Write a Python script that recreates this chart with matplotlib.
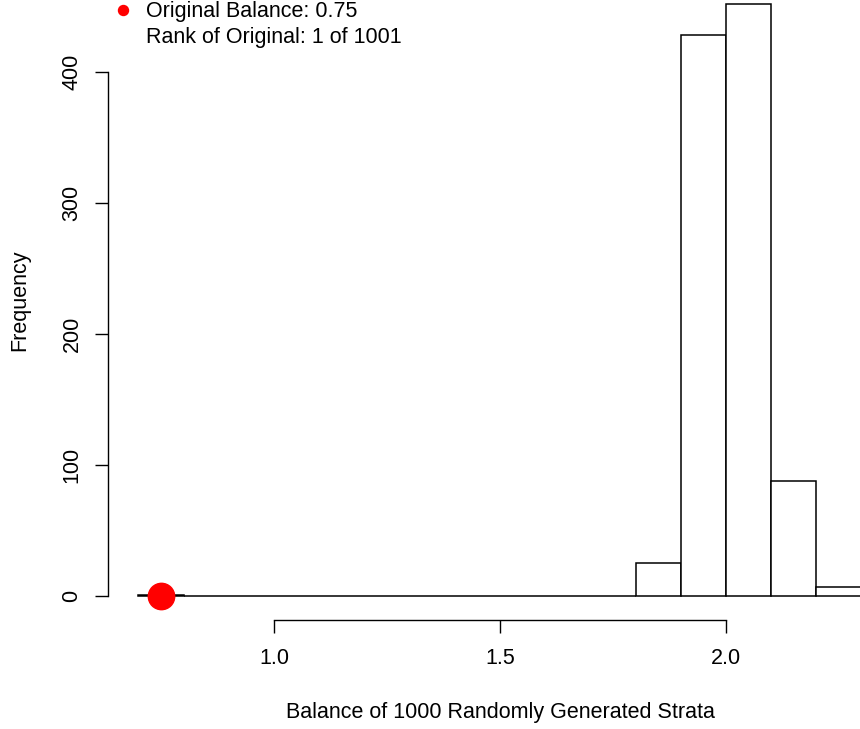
import matplotlib
matplotlib.use("Agg")
import matplotlib.pyplot as plt
import numpy as np

plt.rcParams['font.family'] = ['Liberation Sans', 'DejaVu Sans']

# histogram of balances (bin edges 0.7 .. 2.3, step 0.1)
bin_edges = [0.7, 0.8, 0.9, 1.0, 1.1, 1.2, 1.3, 1.4, 1.5, 1.6, 1.7, 1.8, 1.9, 2.0, 2.1, 2.2, 2.3]
counts = [1, 0, 0, 0, 0, 0, 0, 0, 0, 0, 0, 25, 428, 452, 88, 7]
original_balance = 0.75
x_ticks = [1.0, 1.5, 2.0]
x_tick_labels = ["1.0", "1.5", "2.0"]
y_ticks = [0, 100, 200, 300, 400]
legend_lines = ["Original Balance: 0.75", "Rank of Original: 1 of 1001"]

FS = 15.5
W, H = 860, 729
fig = plt.figure(figsize=(W / 100, H / 100), dpi=100)
ax = fig.add_axes([0, 0, 1, 1])

# pixel -> data mapping
px_x = lambda p: 1.0 + (p - 274) / 452.0
px_y = lambda p: (596 - p) / 1.31
ax.set_xlim(px_x(0), px_x(W))
ax.set_ylim(px_y(H), px_y(0))

left = np.array(bin_edges[:-1])
widths = np.diff(bin_edges)
ax.bar(left, counts, width=widths, align='edge', color='white',
       edgecolor='black', linewidth=1.1, zorder=2)

ax.plot([original_balance], [0], 'o', color='red', markersize=19,
        zorder=5, clip_on=False)

# axes drawn R style
for s in ['top', 'right']:
    ax.spines[s].set_visible(False)
ax.spines['left'].set_position(('data', px_x(108)))
ax.spines['left'].set_bounds(0, 400)
ax.spines['bottom'].set_position(('data', px_y(620)))
ax.spines['bottom'].set_bounds(1.0, 2.0)
for s in ['left', 'bottom']:
    ax.spines[s].set_linewidth(1.0)

ax.set_xticks(x_ticks)
ax.set_xticklabels(x_tick_labels)
ax.set_yticks(y_ticks)
ax.set_yticklabels([str(v) for v in y_ticks], rotation=90, va='center')
ax.tick_params(axis='both', direction='out', length=9.4, width=1.0,
               labelsize=FS)
ax.tick_params(axis='x', pad=10.5)
ax.tick_params(axis='y', pad=9)

fig.text(20 / W, 1 - 300 / H, "Frequency", rotation=90,
         ha='center', va='center', fontsize=FS)
fig.text(500 / W, 1 - 718 / H, "Balance of 1000 Randomly Generated Strata",
         ha='center', va='baseline', fontsize=FS)

# legend at the top
fig.lines.append(plt.Line2D([123 / W], [1 - 10 / H], marker='o', color='red',
                            markersize=7.2, linestyle='none',
                            transform=fig.transFigure))
fig.text(146 / W, 1 - 17.5 / H, legend_lines[0], ha='left', va='baseline', fontsize=FS)
fig.text(146 / W, 1 - 43.5 / H, legend_lines[1], ha='left', va='baseline', fontsize=FS)

fig.savefig("out.png", dpi=100)
